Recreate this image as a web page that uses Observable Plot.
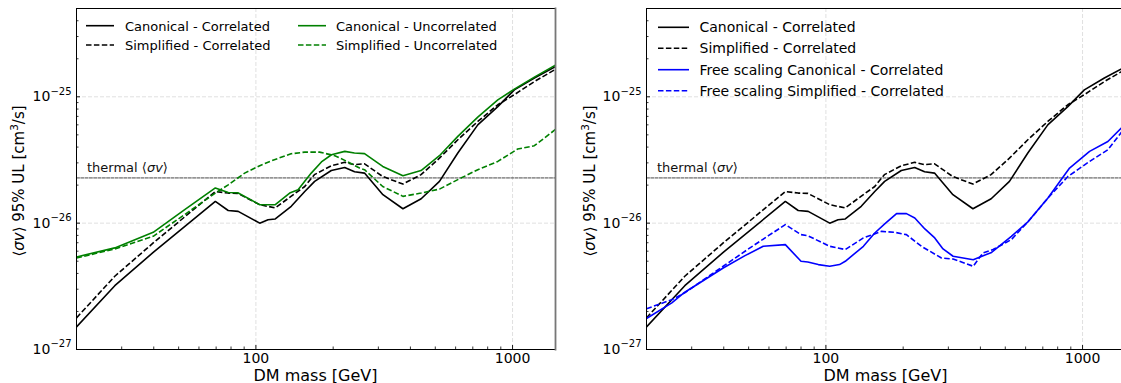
<!DOCTYPE html>
<html><head><meta charset="utf-8">
<script src="https://cdn.jsdelivr.net/npm/d3@7"></script>
<script src="https://cdn.jsdelivr.net/npm/@observablehq/plot@0.6"></script>
<style>
html,body{margin:0;padding:0;background:#fff;overflow:hidden;}
#wrap{position:relative;width:1121px;height:383px;overflow:hidden;font-family:"DejaVu Sans",sans-serif;background:#fff;}
.panel{position:absolute;top:0;}
</style></head><body><div id="wrap"><div class="panel" id="p1" style="left:0;width:560px"></div><div class="panel" id="p2" style="left:560px;width:570px"></div></div>
<script>
// ---------- data ----------
const massCC = [20, 28.2, 39.8, 69.5, 78, 85.3, 103.5, 111.5, 119, 137.3, 155, 169.4, 196.7, 221.8, 242.4, 265, 312.5, 374, 440.6, 519, 612, 732, 876, 1016, 1216, 1476];
const valCC  = [1.51e-27, 3.2e-27, 5.87e-27, 1.485e-26, 1.26e-26, 1.24e-26, 1.0e-26, 1.065e-26, 1.08e-26, 1.36e-26, 1.78e-26, 2.14e-26, 2.61e-26, 2.76e-26, 2.55e-26, 2.49e-26, 1.68e-26, 1.30e-26, 1.56e-26, 2.14e-26, 3.59e-26, 6.0e-26, 8.37e-26, 1.135e-25, 1.41e-25, 1.74e-25];

const massSC = [20, 28.2, 39.8, 69.5, 78, 85, 103.5, 119, 137, 155, 169, 197, 222, 242, 265, 312, 374, 440, 519, 612, 732, 876, 1016, 1216, 1476];
const valSC  = [1.78e-27, 3.8e-27, 6.97e-27, 1.78e-26, 1.73e-26, 1.72e-26, 1.40e-26, 1.32e-26, 1.63e-26, 1.95e-26, 2.42e-26, 2.85e-26, 3.03e-26, 2.9e-26, 2.95e-26, 2.34e-26, 2.04e-26, 2.42e-26, 3.27e-26, 4.57e-26, 6.38e-26, 8.65e-26, 1.04e-25, 1.32e-25, 1.66e-25];

const massCU = [20, 28.2, 39.8, 52.8, 69.5, 78, 85, 103.5, 119, 135.4, 146, 164.3, 180, 197, 222, 242, 265, 312, 374, 440, 519, 612, 732, 876, 1016, 1216, 1476];
const valCU  = [5.4e-27, 6.37e-27, 8.46e-27, 1.28e-26, 1.90e-26, 1.75e-26, 1.74e-26, 1.40e-26, 1.40e-26, 1.73e-26, 1.84e-26, 2.49e-26, 3.05e-26, 3.48e-26, 3.70e-26, 3.59e-26, 3.55e-26, 2.81e-26, 2.37e-26, 2.61e-26, 3.42e-26, 4.86e-26, 6.91e-26, 9.46e-26, 1.15e-25, 1.43e-25, 1.79e-25];

const massSU = [20, 28.2, 39.8, 52.8, 69.5, 78, 90.4, 103.5, 118, 137, 155, 177, 203, 222, 253.5, 265, 312, 374, 440, 519, 612, 732, 876, 1047, 1216, 1476];
const valSU  = [5.3e-27, 6.25e-27, 7.87e-27, 1.17e-26, 1.73e-26, 2.01e-26, 2.49e-26, 2.85e-26, 3.18e-26, 3.54e-26, 3.65e-26, 3.65e-26, 3.42e-26, 3.14e-26, 2.73e-26, 2.65e-26, 1.95e-26, 1.63e-26, 1.73e-26, 1.86e-26, 2.21e-26, 2.65e-26, 3.08e-26, 3.86e-26, 4.1e-26, 5.55e-26];

const massFC = [20, 25.1, 28.2, 39.8, 48.4, 57, 69.5, 80, 85, 93.4, 103.5, 113, 119, 140, 155, 169.9, 188.5, 206, 222, 243, 265.5, 286, 313, 375, 442, 528, 614, 733, 890, 1065, 1255, 1426];
const valFC  = [1.76e-27, 2.34e-27, 2.84e-27, 4.42e-27, 5.53e-27, 6.56e-27, 6.76e-27, 4.99e-27, 4.93e-27, 4.7e-27, 4.56e-27, 4.7e-27, 4.99e-27, 6.56e-27, 8.36e-27, 9.9e-27, 1.19e-26, 1.19e-26, 1.1e-26, 9.0e-27, 7.64e-27, 6.25e-27, 5.47e-27, 5.14e-27, 5.87e-27, 7.87e-27, 1.03e-26, 1.58e-26, 2.73e-26, 3.70e-26, 4.43e-26, 5.75e-26];

const massFS = [20, 25.1, 28.2, 39.8, 49.9, 59.7, 69.5, 80, 85, 103.5, 119, 140, 164.8, 185.4, 206, 235.5, 282, 313, 375, 409, 448, 528, 614, 733, 877, 1065, 1255, 1426];
const valFS  = [2.1e-27, 2.48e-27, 2.81e-27, 4.56e-27, 6.25e-27, 7.96e-27, 9.73e-27, 8.11e-27, 7.96e-27, 6.56e-27, 6.18e-27, 7.64e-27, 8.61e-27, 8.46e-27, 8.11e-27, 6.56e-27, 5.3e-27, 5.2e-27, 4.56e-27, 5.81e-27, 6.18e-27, 7.41e-27, 1.03e-26, 1.58e-26, 2.34e-26, 3.08e-26, 3.81e-26, 5.32e-26];

const thermalMass = [20, 1500];
const thermalVal  = [2.28e-26, 2.28e-26];
const thermalLabel = "thermal ⟨σv⟩";

const xMajorTicks = [100, 1000];
const xMinorTicks = [20, 30, 40, 50, 60, 70, 80, 90, 200, 300, 400, 500, 600, 700, 800, 900];
const yMajorTicks = [1e-27, 1e-26, 1e-25];
const yMinorTicks = [2e-27,3e-27,4e-27,5e-27,6e-27,7e-27,8e-27,9e-27,2e-26,3e-26,4e-26,5e-26,6e-26,7e-26,8e-26,9e-26,2e-25,3e-25,4e-25];

const xLabel = "DM mass [GeV]";
const legendLeft  = ["Canonical - Correlated", "Simplified - Correlated", "Canonical - Uncorrelated", "Simplified - Uncorrelated"];
const legendRight = ["Canonical - Correlated", "Simplified - Correlated", "Free scaling Canonical - Correlated", "Free scaling Simplified - Correlated"];

// ---------- helpers ----------
const rows = (m, v) => m.map((x, i) => ({x, y: v[i]}));
const DASH = "5.5,2.4";
const GREEN = "#008000", BLUE = "#0000ff", BLACK = "#000000";
const ns = "http://www.w3.org/2000/svg";

function seriesLine(m, v, color, dashed) {
  return Plot.line(rows(m, v), {x: "x", y: "y", stroke: color, strokeWidth: 1.6, clip: true,
    strokeDasharray: dashed ? DASH : null, strokeLinecap: dashed ? "butt" : "round", strokeLinejoin: "round"});
}

function makePanel({width, marginLeft, series, rightBorder}) {
  return Plot.plot({
    width, height: 383,
    marginLeft, marginRight: 5, marginTop: 8, marginBottom: 34,
    style: {fontFamily: "DejaVu Sans", fontSize: "14px", color: "#000", background: "transparent", maxWidth: "none", overflow: "visible"},
    x: {type: "log", domain: [20, 1470], label: null},
    y: {type: "log", domain: [1e-27, 5e-25], label: null},
    marks: [
      Plot.gridX(xMajorTicks, {stroke: "#e0e0e0", strokeOpacity: 1, strokeWidth: 1, strokeDasharray: "4,2"}),
      Plot.gridY(yMajorTicks.slice(1), {stroke: "#e0e0e0", strokeOpacity: 1, strokeWidth: 1, strokeDasharray: "4,2"}),
      Plot.line(rows(thermalMass, thermalVal), {x: "x", y: "y", stroke: "#333", strokeWidth: 0.9, strokeDasharray: "3,1.3", clip: true}),
      Plot.text([{x: thermalMass[0], y: thermalVal[0], t: thermalLabel}], {x: "x", y: "y", text: "t", textAnchor: "start", lineAnchor: "bottom", dx: 10.5, dy: -6.3, fontSize: 13, fill: "#111"}),
      ...series.map(s => seriesLine(s.m, s.v, s.color, s.dashed)),
      Plot.axisX(xMajorTicks, {tickSize: -4, tickFormat: () => "", label: null, strokeWidth: 0.9}),
      Plot.axisX(xMinorTicks, {tickSize: -2.5, tickFormat: () => "", label: null, strokeWidth: 0.8}),
      Plot.axisX(xMajorTicks, {tickSize: 0, tickPadding: 4, fontSize: 14, tickFormat: d => String(d), label: null}),
      Plot.axisY(yMajorTicks, {tickSize: -4, tickFormat: () => "", label: null, strokeWidth: 0.9}),
      Plot.axisY(yMinorTicks, {tickSize: -2.5, tickFormat: () => "", label: null, strokeWidth: 0.8}),
      Plot.axisY(yMajorTicks, {tickSize: 0, tickPadding: 5, fontSize: 14, tickFormat: d => "10^" + Math.round(Math.log10(d)), label: null}),
      Plot.frame({stroke: "#000", strokeWidth: 1}),
      ...(rightBorder ? [Plot.frame({anchor: "right", stroke: "#777", strokeWidth: 1.8})] : [])
    ]
  });
}

function el(tag, attrs, text) {
  const e = document.createElementNS(ns, tag);
  for (const k in attrs) e.setAttribute(k, attrs[k]);
  if (text != null) e.textContent = text;
  return e;
}

function decorate(svg, {yLabelX, yLabelY, xLabelX, legend, legendFont, lineX0, lineX1, textX, rowsY}) {
  svg.querySelectorAll("text").forEach(t => {
    const s = t.textContent;
    if (/^10\^-?\d+$/.test(s)) {
      const e = s.split("^")[1].replace("-", "\u2212");
      t.textContent = "";
      t.appendChild(el("tspan", {}, "10"));
      t.appendChild(el("tspan", {dy: "-6.5", "font-size": "10"}, e));
    } else if (s === thermalLabel) {
      t.textContent = "";
      t.appendChild(el("tspan", {}, "thermal \u27e8"));
      t.appendChild(el("tspan", {"font-style": "italic"}, "σv"));
      t.appendChild(el("tspan", {}, "\u27e9"));
    }
  });
  const yl = el("text", {transform: `translate(${yLabelX},${yLabelY}) rotate(-90)`, "text-anchor": "middle", "font-size": "15", fill: "#000"});
  yl.appendChild(el("tspan", {}, "\u27e8"));
  yl.appendChild(el("tspan", {"font-style": "italic"}, "σv"));
  yl.appendChild(el("tspan", {}, "\u27e9 95% UL [cm"));
  yl.appendChild(el("tspan", {dy: "-6", "font-size": "10.5"}, "3"));
  yl.appendChild(el("tspan", {dy: "6"}, "/s]"));
  svg.appendChild(yl);
  svg.appendChild(el("text", {x: xLabelX, y: 380.5, "text-anchor": "middle", "font-size": "16", fill: "#000"}, xLabel));
  legend.forEach((item, i) => {
    const cy = rowsY[i];
    svg.appendChild(el("line", {x1: lineX0[i], x2: lineX1[i], y1: cy, y2: cy, stroke: item.color, "stroke-width": 1.6,
      "stroke-dasharray": item.dashed ? DASH : "none"}));
    svg.appendChild(el("text", {x: textX[i], y: cy + legendFont * 0.37, "font-size": legendFont, "text-anchor": "start", fill: "#000"}, item.label));
  });
}

const leftSeries = [
  {m: massCC, v: valCC, color: BLACK, dashed: false, label: legendLeft[0]},
  {m: massSC, v: valSC, color: BLACK, dashed: true, label: legendLeft[1]},
  {m: massCU, v: valCU, color: GREEN, dashed: false, label: legendLeft[2]},
  {m: massSU, v: valSU, color: GREEN, dashed: true, label: legendLeft[3]}
];
const rightSeries = [
  {m: massCC, v: valCC, color: BLACK, dashed: false, label: legendRight[0]},
  {m: massSC, v: valSC, color: BLACK, dashed: true, label: legendRight[1]},
  {m: massFC, v: valFC, color: BLUE, dashed: false, label: legendRight[2]},
  {m: massFS, v: valFS, color: BLUE, dashed: true, label: legendRight[3]}
];

const p1 = makePanel({width: 560, marginLeft: 76, series: leftSeries, rightBorder: true});
decorate(p1, {yLabelX: 24, yLabelY: 181, xLabelX: 315.5, legend: leftSeries, legendFont: 13,
  lineX0: [86, 86, 298, 298], lineX1: [114, 114, 326, 326], textX: [125, 125, 336, 336], rowsY: [25.7, 45, 25.7, 45]});
document.getElementById("p1").appendChild(p1);

const p2 = makePanel({width: 570, marginLeft: 86, series: rightSeries, rightBorder: false});
decorate(p2, {yLabelX: 34.5, yLabelY: 181, xLabelX: 325.5, legend: rightSeries, legendFont: 14,
  lineX0: [98, 98, 98, 98], lineX1: [129, 129, 129, 129], textX: [139.5, 139.5, 139.5, 139.5], rowsY: [27.3, 48.3, 69.7, 90.7]});
document.getElementById("p2").appendChild(p2);
</script>
</body></html>
